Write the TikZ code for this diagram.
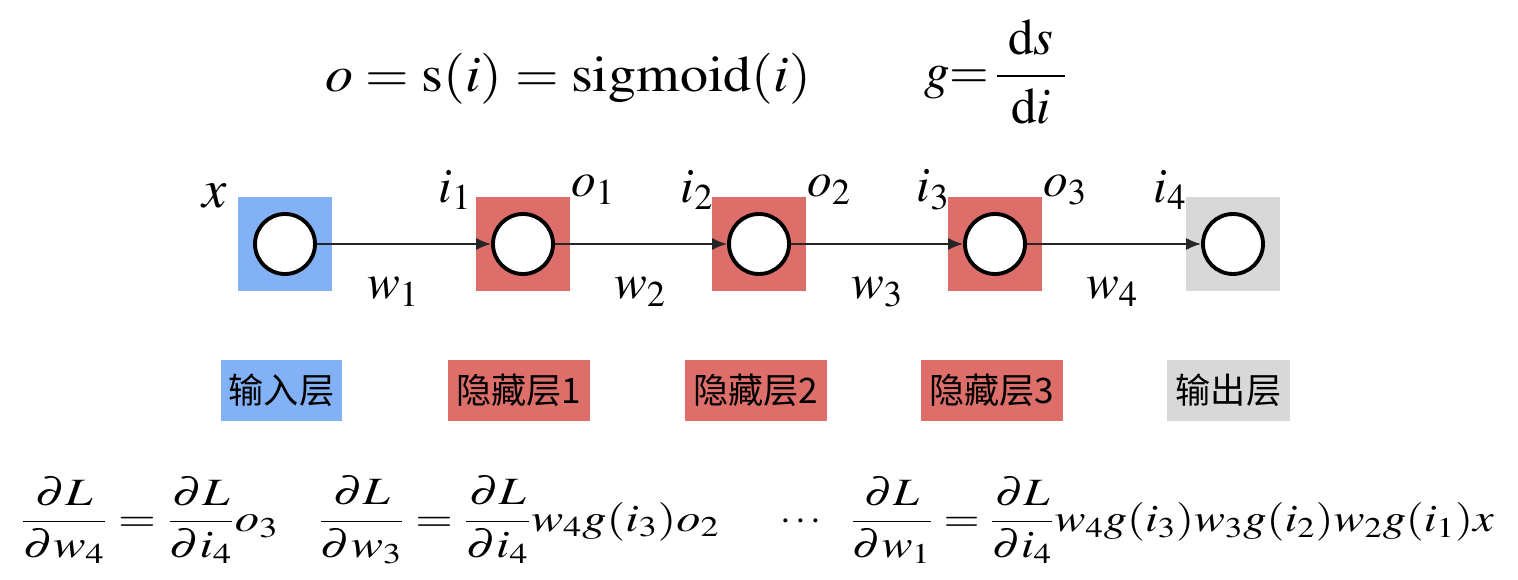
\documentclass[tikz,border=0pt]{standalone}
\usepackage{amsmath}
\usepackage{mathptmx}
\usepackage{fontspec}
\setmainfont{Liberation Serif}
\newfontfamily\cjk{Noto Sans CJK SC}
\usetikzlibrary{arrows.meta}

\definecolor{inblue}{RGB}{130,178,245}
\definecolor{hidred}{RGB}{221,110,106}
\definecolor{outgray}{RGB}{216,216,216}

\tikzset{
  layer/.style={minimum size=1.88cm, inner sep=0},
  neuron/.style={circle, draw=black, line width=2.2pt, fill=white, minimum size=1.2cm, inner sep=0},
  link/.style={-{Latex[length=0.3cm,width=0.24cm]}, line width=0.9pt, draw=black!85},
  tag/.style={font=\cjk\fontsize{20}{22}\selectfont, minimum height=1.22cm, inner sep=0},
  var/.style={font=\fontsize{28}{30}\selectfont, inner sep=0},
  eq/.style={font=\fontsize{22}{26}\selectfont, inner sep=0, anchor=west},
}

\begin{document}
\begin{tikzpicture}[x=0.02cm, y=-0.02cm]
    \useasboundingbox (0,0) rectangle (1518,580);

    % Formeln oben
    \node[eq, font=\fontsize{29}{32}\selectfont, anchor=base west] (act) at (325,92) {\scalebox{1.1}[1]{$o=\mathrm{s}(i)=\mathrm{sigmoid}(i)$}};
    \node[eq, font=\fontsize{29}{32}\selectfont] (grad) at (924,72) {$g{=}\,\dfrac{\;\mathrm{d}s\;}{\;\mathrm{d}i\;}$};

    % Schichten
    \node[layer, fill=inblue] (b0) at (285,244) {};
    \node[layer, fill=hidred] (b1) at (523,244) {};
    \node[layer, fill=hidred] (b2) at (759,244) {};
    \node[layer, fill=hidred] (b3) at (995,244) {};
    \node[layer, fill=outgray] (b4) at (1233,244) {};

    % Neuronen
    \node[neuron] (n0) at (b0) {};
    \node[neuron] (n1) at (b1) {};
    \node[neuron] (n2) at (b2) {};
    \node[neuron] (n3) at (b3) {};
    \node[neuron] (n4) at (b4) {};

    % Verbindungen
    \draw[link] (n0) -- (n1);
    \draw[link] (n1) -- (n2);
    \draw[link] (n2) -- (n3);
    \draw[link] (n3) -- (n4);

    % Ein- und Ausgaben
    \node[var, font=\fontsize{31}{32}\selectfont] (x) at (215,196) {$x$};
    \node[var] (i1) at (455,190) {$i_1$};
    \node[var] (o1) at (593,190) {$o_1$};
    \node[var] (i2) at (697,190) {$i_2$};
    \node[var] (o2) at (829,190) {$o_2$};
    \node[var] (i3) at (933,190) {$i_3$};
    \node[var] (o3) at (1065,190) {$o_3$};
    \node[var] (i4) at (1170,190) {$i_4$};

    % Gewichte
    \node[var] (w1) at (393,292) {$w_1$};
    \node[var] (w2) at (640,292) {$w_2$};
    \node[var] (w3) at (877,292) {$w_3$};
    \node[var] (w4) at (1112,292) {$w_4$};

    % Beschriftung der Schichten
    \node[tag, fill=inblue, minimum width=2.42cm] (t0) at (281.5,390.5) {输入层};
    \node[tag, fill=hidred, minimum width=2.84cm] (t1) at (519,390.5) {隐藏层1};
    \node[tag, fill=hidred, minimum width=2.84cm] (t2) at (756,390.5) {隐藏层2};
    \node[tag, fill=hidred, minimum width=2.84cm] (t3) at (992,390.5) {隐藏层3};
    \node[tag, fill=outgray, minimum width=2.46cm] (t4) at (1228.5,390.5) {输出层};

    % Kettenregel
    \node[eq] (d4) at (20,520) {\scalebox{1.26}[1]{$\dfrac{\partial L}{\partial w_4}=\dfrac{\partial L}{\partial i_4}o_3$}};
    \node[eq] (d3) at (318,520) {\scalebox{1.25}[1]{$\dfrac{\partial L}{\partial w_3}=\dfrac{\partial L}{\partial i_4}w_4g(i_3)o_2$}};
    \node[eq, anchor=center] (dots) at (803,522) {$\cdots$};
    \node[eq] (d1) at (850,520) {\scalebox{1.2}[1]{$\dfrac{\partial L}{\partial w_1}=\dfrac{\partial L}{\partial i_4}w_4g(i_3)w_3g(i_2)w_2g(i_1)x$}};

\end{tikzpicture}
\end{document}
